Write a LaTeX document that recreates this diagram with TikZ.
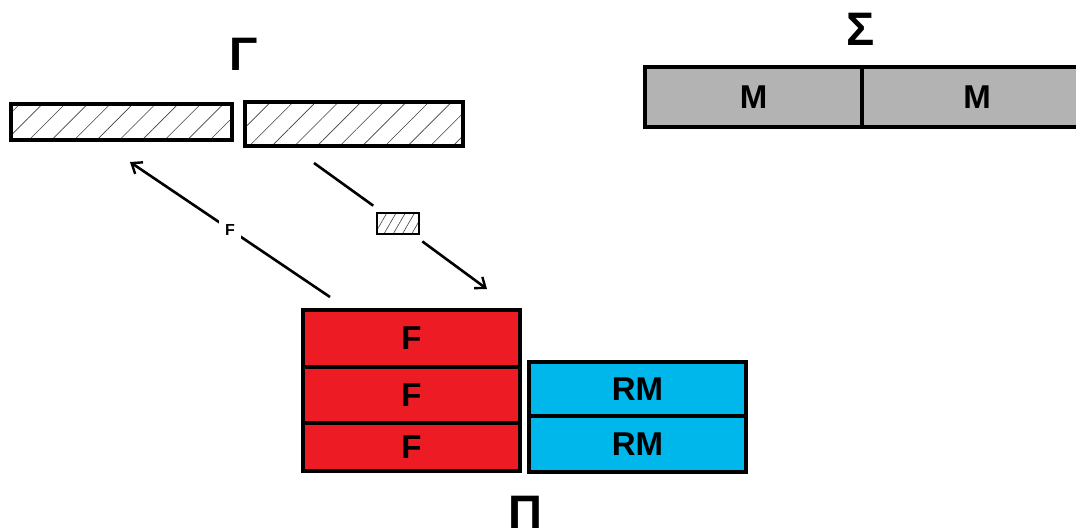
\documentclass[tikz,border=0pt]{standalone}
\usepackage{fontspec}
\setmainfont{Liberation Sans}
\usetikzlibrary{patterns.meta,arrows.meta}
\definecolor{fred}{HTML}{ED1C24}
\definecolor{rmblue}{HTML}{00B7EB}
\definecolor{mgray}{HTML}{B3B3B3}
\tikzset{
  cell/.style={draw=black, line width=4pt, rectangle, inner sep=0pt, font=\fontsize{33}{33}\selectfont\bfseries},
  hatch/.style={draw=black, line width=4pt, rectangle, inner sep=0pt, fill=white,
     pattern={Lines[angle=45,distance=16pt,line width=0.6pt]}, pattern color=black!75},
  greek/.style={inner sep=0pt, font=\fontsize{47}{47}\selectfont\bfseries},
  conn/.style={line width=2.6pt},
  arr/.style={conn, -{Straight Barb[length=9pt,width=14pt,line width=2.4pt]}}
}
\begin{document}
\begin{tikzpicture}[x=1pt,y=-1pt]
\useasboundingbox[fill=white] (0,0) rectangle (1076,531);
% Gamma group
\node[hatch, minimum width=221pt, minimum height=36pt] (g1) at (121.5,122) {};
\node[hatch, minimum width=218pt, minimum height=44pt] (g2) at (354,124) {};
\node[greek, anchor=base] (gamma) at (244,70) {Γ};
% Sigma group
\node[cell, fill=mgray, minimum width=217pt, minimum height=60pt] (m1) at (753.5,97) {M};
\node[cell, fill=mgray, minimum width=230pt, minimum height=60pt] (m2) at (977,97) {M};
\node[greek, anchor=base] (sigma) at (861,45) {Σ};
% Pi group
\node[cell, fill=fred, minimum width=217pt, minimum height=57pt] (f1) at (411.5,338.5) {F};
\node[cell, fill=fred, minimum width=217pt, minimum height=56pt] (f2) at (411.5,395) {F};
\node[cell, fill=fred, minimum width=217pt, minimum height=48pt] (f3) at (411.5,447) {F};
\node[cell, fill=rmblue, minimum width=217pt, minimum height=54pt] (rm1) at (637.5,389) {RM};
\node[cell, fill=rmblue, minimum width=217pt, minimum height=56pt] (rm2) at (637.5,444) {RM};
\node[greek, anchor=base] (pi) at (525,528) {Π};
% small hatched piece
\node[draw=black, line width=2.5pt, rectangle, inner sep=0pt, minimum width=42pt, minimum height=21pt,
  fill=white, pattern={Lines[angle=60,distance=8pt,line width=0.6pt]}, pattern color=black!75] (hb) at (398,223.5) {};
% connectors
\coordinate (fs) at (330,297);
\coordinate (fe) at (130,162);
\draw[arr] (fs) -- node[fill=white, inner sep=6pt, font=\fontsize{16}{16}\selectfont\bfseries] (flab) {F} (fe);
\coordinate (hs) at (314,163);
\coordinate (he) at (487,289);
\draw[conn, shorten >=12pt] (hs) -- (hb);
\draw[arr, shorten <=12pt] (hb) -- (he);
\end{tikzpicture}
\end{document}
